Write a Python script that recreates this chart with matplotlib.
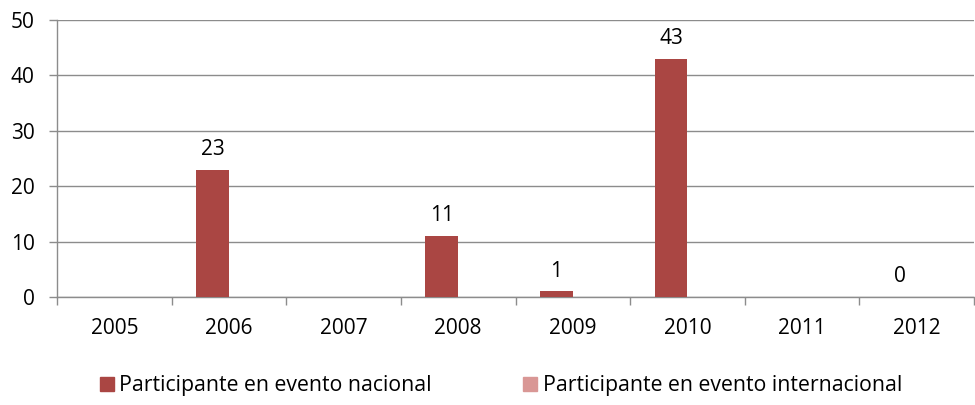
import numpy as np
import matplotlib
matplotlib.use('Agg')
import matplotlib.pyplot as plt
from matplotlib.patches import Patch

# Data (NaN = no bar / no label)
years = ['2005', '2006', '2007', '2008', '2009', '2010', '2011', '2012']
nacional = [np.nan, 23, np.nan, 11, 1, 43, np.nan, 0]
internacional = [np.nan] * 8

col_nac = '#AA4643'
col_int = '#D99795'
grid_col = '#8C8C8C'

plt.rcParams['font.family'] = ['Open Sans', 'DejaVu Sans']
fs = 15

fig = plt.figure(figsize=(9.75, 4.05), dpi=100)
ax = fig.add_axes([57 / 975, 108 / 405, 917 / 975, 277 / 405])

x = np.arange(len(years))
w = 1 / 3.5  # Excel gap width 150%
ax.bar(x - w / 2, nacional, w, color=col_nac, zorder=3)
ax.bar(x + w / 2, internacional, w, color=col_int, zorder=3)

# data labels for the national series
for xi, v in zip(x, nacional):
    if not np.isnan(v):
        ax.annotate(f'{v:g}', (xi - w / 2, v), xytext=(0, 7), textcoords='offset points',
                    ha='center', va='bottom', fontsize=fs, color='black')

ax.set_xlim(-0.5, -0.5 + 917 / 115.7)
ax.set_ylim(0, 50)
ax.set_yticks(range(0, 51, 10))
ax.yaxis.grid(True, color=grid_col, linewidth=1, zorder=0)
ax.set_axisbelow(True)

# category labels at centres, tick marks at boundaries
ax.set_xticks(x)
ax.set_xticklabels(years)
ax.set_xticks(np.arange(-0.5, 7.6, 1), minor=True)
ax.tick_params(axis='x', which='major', length=0, pad=15, labelsize=fs)
ax.tick_params(axis='x', which='minor', length=6, color=grid_col, width=1)
ax.tick_params(axis='y', length=6, color=grid_col, width=1, pad=10, labelsize=fs)

for s in ['top', 'right']:
    ax.spines[s].set_visible(False)
for s in ['left', 'bottom']:
    ax.spines[s].set_color(grid_col)
    ax.spines[s].set_linewidth(1)

handles = [Patch(color=col_nac), Patch(color=col_int)]
labels = ['Participante en evento nacional', 'Participante en evento internacional']
fig.legend(handles, labels, loc='center', bbox_to_anchor=(0.514, 0.047), ncol=2,
           frameon=False, fontsize=15.3, handlelength=0.65, handleheight=0.65,
           handletextpad=0.25, columnspacing=4.3)

fig.savefig('out.png', dpi=100)
